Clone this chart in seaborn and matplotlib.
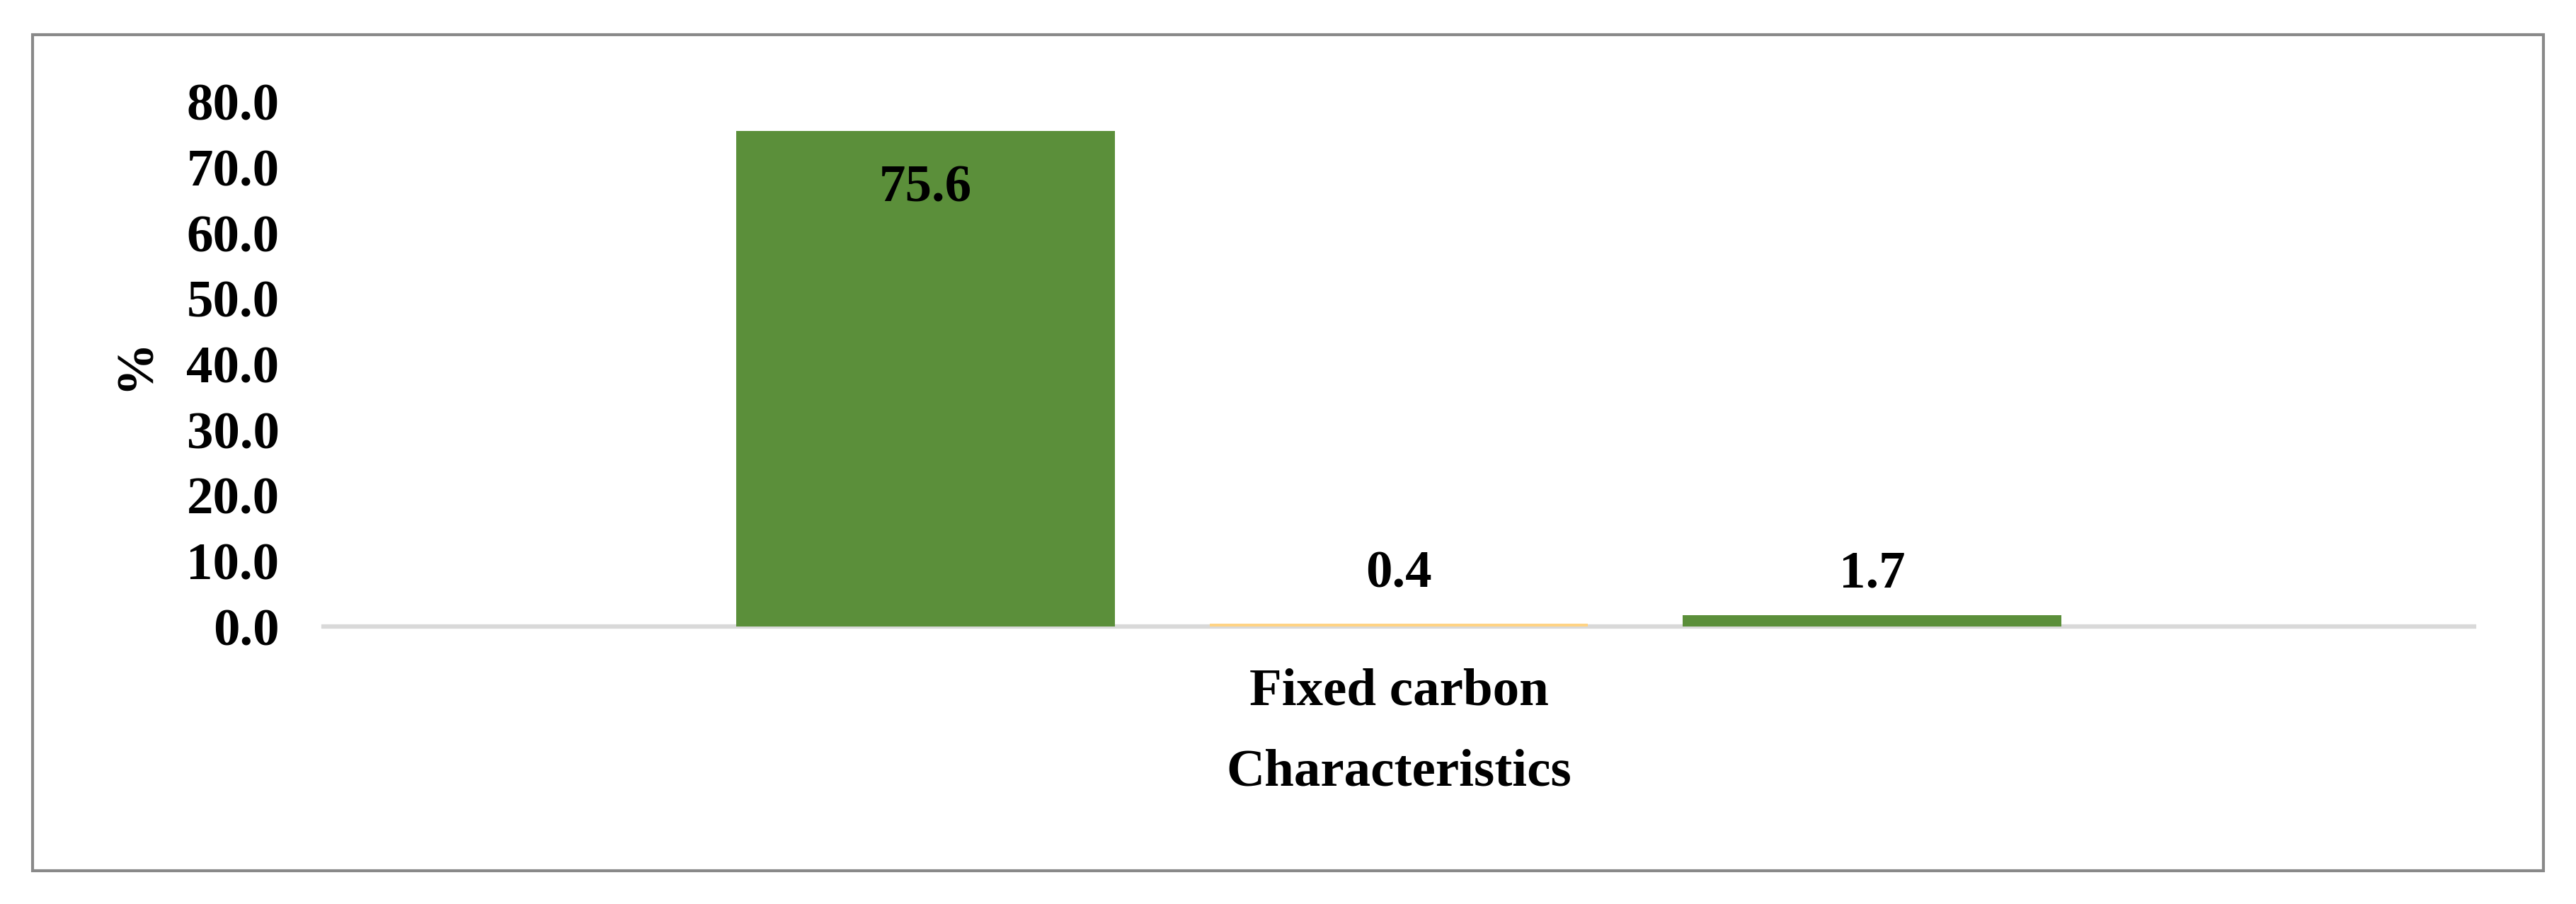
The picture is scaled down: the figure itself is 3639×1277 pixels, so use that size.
import matplotlib
matplotlib.use("Agg")
import matplotlib.pyplot as plt
import seaborn as sns
import pandas as pd
from matplotlib.patches import Rectangle

# ---- data ----
categories = ["Fixed carbon"]
series = ["Series 1", "Series 2", "Series 3"]
values = [75.6, 0.4, 1.7]
yticks = [0, 10, 20, 30, 40, 50, 60, 70, 80]
bar_colors = ["#5B8F3A", "#FFD383", "#5B8F3A"]

df = pd.DataFrame({
    "Characteristic": categories * len(series),
    "Series": series,
    "Value": values,
})

sns.set_theme(style="white")
plt.rcParams["font.family"] = ["Liberation Serif", "DejaVu Serif"]
plt.rcParams["font.weight"] = "bold"
plt.rcParams["text.color"] = "black"
plt.rcParams["axes.labelcolor"] = "black"
plt.rcParams["xtick.color"] = "black"
plt.rcParams["ytick.color"] = "black"

FS = 18
W, H, DPI = 3639, 1277, 300
fig = plt.figure(figsize=(W / DPI, H / DPI), dpi=DPI)
ax = fig.add_axes([457 / W, 1 - 885 / H, (3495 - 457) / W, (885 - 144) / H])

sns.barplot(data=df, x="Characteristic", y="Value", hue="Series",
            palette=bar_colors, width=0.66, gap=0.2, saturation=1,
            errorbar=None, legend=False, linewidth=0, ax=ax)

ax.set_ylim(0, 80)
ax.set_xlim(-0.5, 0.5)
ax.set_yticks(yticks)
ax.set_yticklabels([f"{v:.1f}" for v in yticks], fontsize=FS, fontweight="bold", color="black")
ax.tick_params(axis="y", length=0, pad=15)
ax.tick_params(axis="x", length=0, pad=14, labelsize=FS, labelcolor="black")
for lbl in ax.get_xticklabels():
    lbl.set_fontweight("bold")

ax.set_xlabel("Characteristics", fontsize=FS, fontweight="bold", labelpad=11, color="black")
ax.set_ylabel("%", fontsize=FS, fontweight="bold", labelpad=9, color="black")

for side in ["top", "right", "left"]:
    ax.spines[side].set_visible(False)
ax.spines["bottom"].set_color("#D9D9D9")
ax.spines["bottom"].set_linewidth(1.5)
ax.spines["bottom"].set_zorder(1)
ax.grid(False)

# value labels
for patch in ax.patches:
    patch.set_zorder(3)
    h = patch.get_height()
    cx = patch.get_x() + patch.get_width() / 2
    if h > 10:
        ypos = h - 8.8
    else:
        ypos = 7.9
    ax.text(cx, ypos, f"{h:.1f}", ha="center", va="center",
            fontsize=FS, fontweight="bold", color="black")

# outer border
fig.patches.append(Rectangle((46 / W, 1 - 1230 / H), (3593 - 46) / W, (1230 - 49) / H,
                             transform=fig.transFigure, fill=False,
                             edgecolor="#898989", linewidth=1.0))

fig.savefig("out.png", dpi=DPI, facecolor="white")
